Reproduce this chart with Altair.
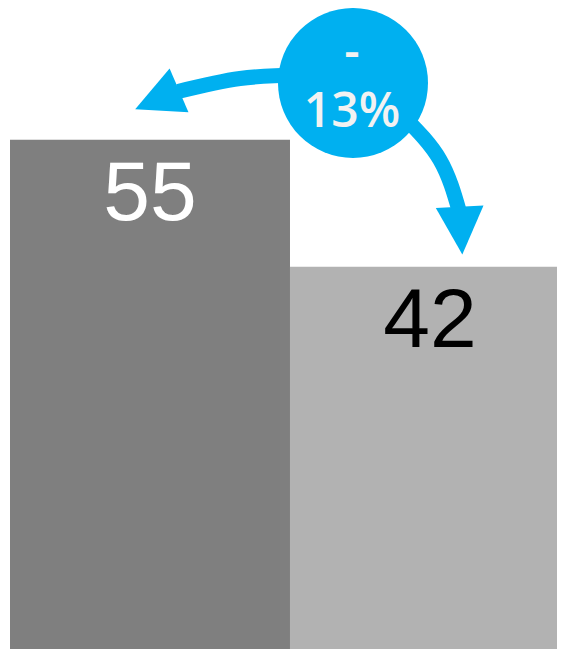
import altair as alt
import pandas as pd

# ---- data ----
categories = ["Bar 1", "Bar 2"]
values = [55, 42]
bar_colors = ["#7f7f7f", "#b2b2b2"]
label_colors = ["#ffffff", "#000000"]

change_text = "-\n13%"

# annotation anchors in data units (x: bar index position, y: value units)
badge_x = [1.225]
badge_y = [60.82]
left_arrow_x = [1.0357, 0.8214, 0.600]
left_arrow_y = [61.64, 61.28, 59.95]
right_arrow_x = [1.4107, 1.5357, 1.6054]
right_arrow_y = [57.24, 52.94, 47.61]
head_x = [0.5254, 1.6107]
head_y = [59.10, 45.71]
head_angle = [246.7, 176.8]
text_x = [1.2214]
text_y = [62.36]

BLUE = "#00b0f0"

bars = pd.DataFrame({
    "cat": categories,
    "value": values,
    "start": [i for i in range(len(values))],
    "end": [i + 1 for i in range(len(values))],
    "mid": [i + 0.5 for i in range(len(values))],
    "color": bar_colors,
    "tcolor": label_colors,
})

arrows = pd.DataFrame({
    "arrow": ["left"] * len(left_arrow_x) + ["right"] * len(right_arrow_x),
    "i": list(range(len(left_arrow_x))) + list(range(len(right_arrow_x))),
    "x": left_arrow_x + right_arrow_x,
    "y": left_arrow_y + right_arrow_y,
})
heads = pd.DataFrame({"x": head_x, "y": head_y, "angle": head_angle})
badge = pd.DataFrame({"x": badge_x, "y": badge_y})
texts = pd.DataFrame({"x": text_x, "y": text_y, "t": [change_text]})

xs = alt.Scale(domain=[0, 1.9536], nice=False, zero=False)
ys = alt.Scale(domain=[2.86, 68.5], nice=False, zero=False)

bar_layer = alt.Chart(bars).mark_bar(clip=True).encode(
    x=alt.X("start:Q", scale=xs, axis=None),
    x2="end:Q",
    y=alt.Y("value:Q", scale=ys, axis=None),
    y2=alt.datum(0),
    color=alt.Color("color:N", scale=None),
)

label_layer = alt.Chart(bars).mark_text(
    font="Liberation Sans", fontSize=84, align="center", baseline="alphabetic", dy=80
).encode(
    x=alt.X("mid:Q", scale=xs, axis=None),
    y=alt.Y("value:Q", scale=ys, axis=None),
    text=alt.Text("value:Q", format="d"),
    color=alt.Color("tcolor:N", scale=None),
)

shaft_layer = alt.Chart(arrows).mark_line(
    color=BLUE, strokeWidth=15, interpolate="natural", strokeCap="butt"
).encode(
    x=alt.X("x:Q", scale=xs, axis=None),
    y=alt.Y("y:Q", scale=ys, axis=None),
    detail="arrow:N",
    order="i:O",
)

head_layer = alt.Chart(heads).mark_point(
    shape="M0,-1L-1,1L1,1Z", filled=True, size=2280, color=BLUE, opacity=1, strokeWidth=0
).encode(
    x=alt.X("x:Q", scale=xs, axis=None),
    y=alt.Y("y:Q", scale=ys, axis=None),
    angle=alt.Angle("angle:Q", scale=None),
)

badge_layer = alt.Chart(badge).mark_point(
    shape="circle", filled=True, size=22500, color=BLUE, opacity=1, strokeWidth=0
).encode(
    x=alt.X("x:Q", scale=xs, axis=None),
    y=alt.Y("y:Q", scale=ys, axis=None),
)

text_layer = alt.Chart(texts).mark_text(
    font="Open Sans", fontWeight=600, fontSize=48, color="#f2f2f2",
    align="center", baseline="alphabetic", lineBreak="\n", lineHeight=59
).encode(
    x=alt.X("x:Q", scale=xs, axis=None),
    y=alt.Y("y:Q", scale=ys, axis=None),
    text="t:N",
)

chart = alt.layer(
    bar_layer, label_layer, shaft_layer, head_layer, badge_layer, text_layer
).properties(
    width=547, height=641,
    padding={"left": 2, "top": 0, "right": 0, "bottom": 0},
    autosize="none",
).configure_view(strokeWidth=0)

chart.save("out.html", embed_options={"renderer": "svg", "actions": False})
